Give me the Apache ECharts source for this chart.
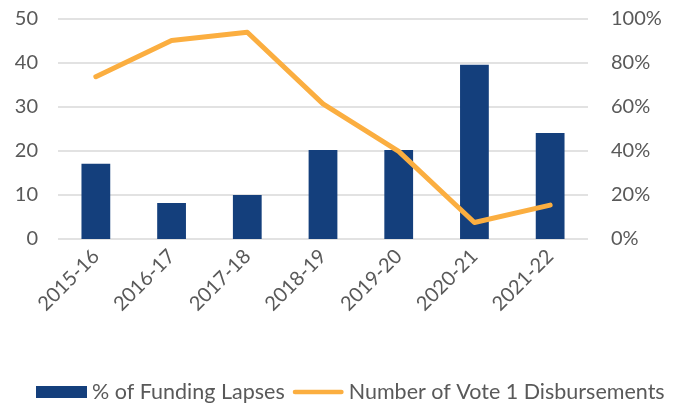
<!DOCTYPE html>
<html>
<head>
<meta charset="utf-8">
<script src="https://cdn.jsdelivr.net/npm/echarts@6/dist/echarts.min.js"></script>
<style>
  html, body { margin: 0; padding: 0; background: #fff; }
  #chart { width: 682px; height: 406px; }
</style>
</head>
<body>
<div id="chart"></div>
<script>
// Financial years on the category axis
const years = ['2015-16', '2016-17', '2017-18', '2018-19', '2019-20', '2020-21', '2021-22'];
// Bars, left axis
const fundingLapses = [17.1, 8.2, 10.0, 20.2, 20.2, 39.6, 24.1];
// Line, right axis (percent)
const vote1Disbursements = [73.8, 90.2, 94, 61.4, 39.8, 7.5, 15.4];
// Axis ticks
const leftTicks = [0, 10, 20, 30, 40, 50];
const rightTicks = [0, 20, 40, 60, 80, 100];

const font = 'Lato, "Open Sans", sans-serif';
const labelColor = '#595959';
const barColor = '#143F7C';
const lineColor = '#FBAE40';

const chart = echarts.init(document.getElementById('chart'), null, { renderer: 'canvas' });
chart.setOption({
  animation: false,
  textStyle: { fontFamily: font },
  grid: { left: 58, right: 94, top: 19, bottom: 167, containLabel: false },
  legend: {
    bottom: 3,
    left: 36,
    width: 646,
    padding: 0,
    itemGap: 8,
    itemWidth: 51,
    itemHeight: 12,
    textStyle: { fontFamily: font, fontSize: 21.5, color: labelColor },
    data: [
      { name: '% of Funding Lapses', icon: 'rect' },
      { name: 'Number of Vote 1 Disbursements', icon: 'path://M2.5,0 H52.5 A2.5,2.5 0 0 1 52.5,5 H2.5 A2.5,2.5 0 0 1 2.5,0 Z' }
    ]
  },
  xAxis: {
    type: 'category',
    data: years,
    axisLine: { show: false },
    axisTick: { show: false },
    axisLabel: { rotate: 45, color: labelColor, fontSize: 20, fontFamily: font, margin: 14 }
  },
  yAxis: [
    {
      type: 'value', min: leftTicks[0], max: leftTicks[leftTicks.length - 1], interval: 10,
      axisLine: { show: false }, axisTick: { show: false },
      splitLine: { lineStyle: { color: '#D9D9D9', width: 1.6 } },
      axisLabel: { color: labelColor, fontSize: 20, fontFamily: font, margin: 20 }
    },
    {
      type: 'value', min: rightTicks[0], max: rightTicks[rightTicks.length - 1], interval: 20,
      axisLine: { show: false }, axisTick: { show: false },
      splitLine: { show: false },
      axisLabel: { color: labelColor, fontSize: 20, fontFamily: font, margin: 23, formatter: '{value}%' }
    }
  ],
  series: [
    {
      name: '% of Funding Lapses',
      type: 'bar',
      data: fundingLapses,
      barWidth: '38%',
      itemStyle: { color: barColor }
    },
    {
      name: 'Number of Vote 1 Disbursements',
      type: 'line',
      yAxisIndex: 1,
      data: vote1Disbursements,
      symbol: 'none',
      lineStyle: { color: lineColor, width: 5, cap: 'round', join: 'round' },
      itemStyle: { color: lineColor }
    }
  ]
});
</script>
</body>
</html>
